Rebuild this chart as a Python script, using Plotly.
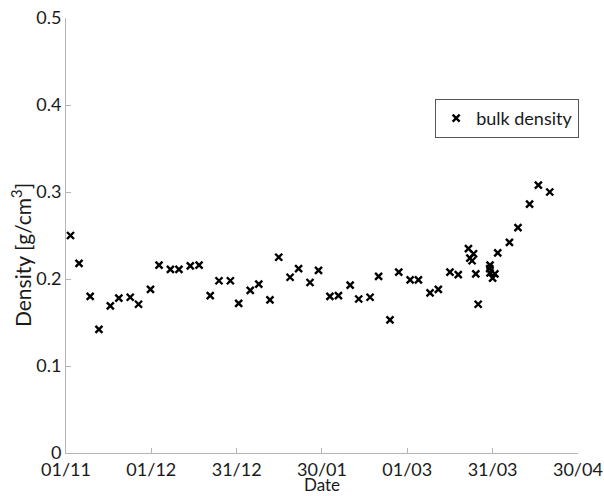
import plotly.graph_objects as go

dates = [
    "2014-11-02 14:00", "2014-11-05 14:00", "2014-11-09 12:00", "2014-11-12 14:00",
    "2014-11-16 14:00", "2014-11-19 14:00", "2014-11-23 14:00", "2014-11-26 12:00",
    "2014-11-30 17:00", "2014-12-03 17:00", "2014-12-07 17:00", "2014-12-10 17:00",
    "2014-12-14 17:00", "2014-12-17 19:00", "2014-12-21 17:00", "2014-12-24 19:00",
    "2014-12-28 19:00", "2014-12-31 17:00", "2015-01-04 19:00", "2015-01-07 19:00",
    "2015-01-11 17:00", "2015-01-14 19:00", "2015-01-18 19:00", "2015-01-21 19:00",
    "2015-01-25 19:00", "2015-01-28 19:00", "2015-02-01 19:00", "2015-02-04 19:00",
    "2015-02-08 22:00", "2015-02-11 22:00", "2015-02-15 22:00", "2015-02-18 22:00",
    "2015-02-22 22:00", "2015-02-26 00:00", "2015-03-02 00:00", "2015-03-04 22:00",
    "2015-03-09 00:00", "2015-03-11 22:00", "2015-03-16 00:00", "2015-03-18 22:00",
    "2015-03-22 12:00", "2015-03-24 07:00", "2015-03-23 00:00", "2015-03-23 19:00",
    "2015-03-25 02:00", "2015-03-25 22:00", "2015-03-30 02:00", "2015-03-30 00:00",
    "2015-03-30 02:00", "2015-03-31 19:00", "2015-03-31 00:00", "2015-04-01 19:00",
    "2015-04-05 22:00", "2015-04-08 22:00", "2015-04-13 00:00", "2015-04-16 02:00",
    "2015-04-20 02:00",
]
density = [
    0.250, 0.218, 0.180, 0.142,
    0.169, 0.178, 0.179, 0.171,
    0.188, 0.216, 0.211, 0.211,
    0.215, 0.216, 0.181, 0.198,
    0.198, 0.172, 0.187, 0.194,
    0.176, 0.225, 0.202, 0.212,
    0.196, 0.210, 0.180, 0.181,
    0.193, 0.177, 0.179, 0.203,
    0.153, 0.208, 0.199, 0.199,
    0.184, 0.188, 0.208, 0.205,
    0.235, 0.229, 0.224, 0.221,
    0.206, 0.171, 0.216, 0.212,
    0.207, 0.206, 0.201, 0.230,
    0.242, 0.259, 0.286, 0.308,
    0.300,
]

tick_dates = ["2014-11-01", "2014-12-01", "2014-12-31", "2015-01-30",
              "2015-03-01", "2015-03-31", "2015-04-30"]
tick_labels = ["01/11", "01/12", "31/12", "30/01", "01/03", "31/03", "30/04"]
y_ticks = [0, 0.1, 0.2, 0.3, 0.4, 0.5]
y_labels = ["0", "0.1", "0.2", "0.3", "0.4", "0.5"]

FONT = "Lato"
INK = "#1a1a1a"
fig = go.Figure()
fig.add_trace(go.Scatter(
    x=dates, y=density, mode="markers", name="bulk density",
    marker=dict(symbol="x-thin", size=7, color="black",
                line=dict(color="black", width=2.4)),
))

fig.update_layout(
    width=604, height=496,
    margin=dict(l=66, r=26, t=18, b=43),
    paper_bgcolor="white", plot_bgcolor="white",
    font=dict(family=FONT, size=18, color=INK),
    showlegend=True,
    legend=dict(x=0.721, y=0.814, xanchor="left", yanchor="top",
                bgcolor="white", bordercolor="#555555", borderwidth=1,
                font=dict(family=FONT, size=18, color=INK),
                itemwidth=30),
    xaxis=dict(
        type="date", range=[tick_dates[0], "2015-04-30 00:30"],
        tickmode="array", tickvals=tick_dates, ticktext=tick_labels,
        showgrid=False, zeroline=False, automargin=False,
        ticklabeloverflow="allow",
        showline=True, linecolor="#b4b4b4", linewidth=1,
        ticks="inside", ticklen=5, tickcolor="#b4b4b4",
    ),
    yaxis=dict(
        range=[0, 0.5], tickmode="array", tickvals=y_ticks, ticktext=y_labels,
        showgrid=False, zeroline=False, automargin=False,
        ticklabeloverflow="allow",
        showline=True, linecolor="#b4b4b4", linewidth=1,
        ticks="inside", ticklen=5, tickcolor="#b4b4b4",
    ),
    annotations=[
        dict(text="Date", xref="paper", yref="paper", x=0.5, y=-0.0989,
             xanchor="center", yanchor="bottom", showarrow=False,
             borderpad=0,
             font=dict(family=FONT, size=17, color=INK)),
        dict(text="Density [g/cm<sup>3</sup>]", xref="paper", yref="paper",
             x=-0.0879, y=0.455, xanchor="center", yanchor="middle",
             textangle=-90, showarrow=False,
             font=dict(family=FONT, size=21, color=INK)),
    ],
)

fig.write_html("out.html")
